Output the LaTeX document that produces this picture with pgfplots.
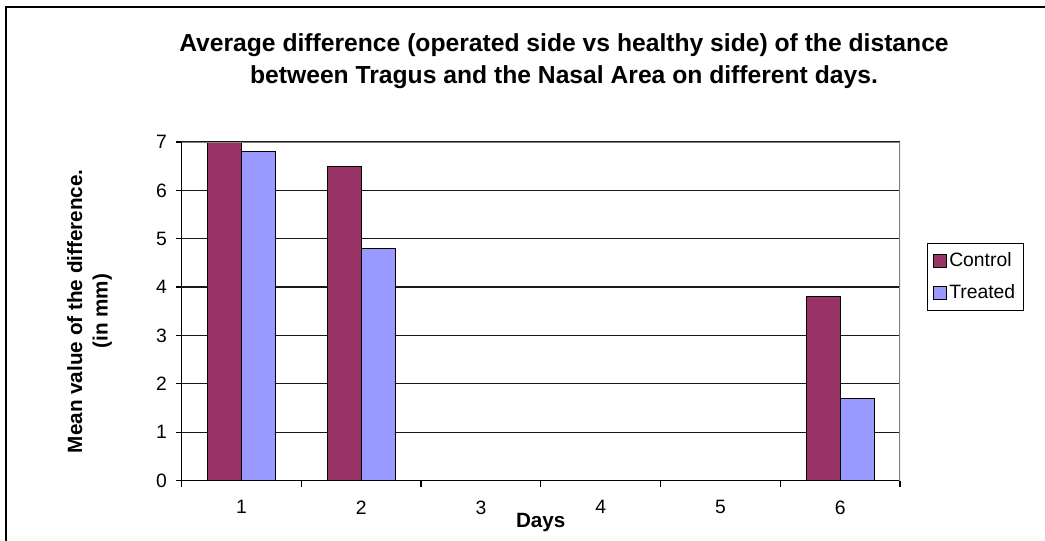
\documentclass[border=0pt]{standalone}
\usepackage{pgfplots}
\pgfplotsset{compat=1.18}
\usepackage{fontspec}
\setmainfont{Liberation Sans}

\definecolor{ctrl}{HTML}{993366}
\definecolor{trt}{HTML}{9999FF}

\newcommand{\tickfont}{\fontsize{14.5}{16}\selectfont}
\newcommand{\titlefont}{\fontsize{18.5}{24}\selectfont\bfseries}
\newcommand{\labfont}{\fontsize{15.5}{19}\selectfont\bfseries}

\begin{document}
\begin{tikzpicture}
% page area and outer chart frame
\useasboundingbox (0,0) rectangle (783.75pt,-405.75pt);
\draw[line width=1.1pt] (783.75pt,-5.25pt) -- (4.5pt,-5.25pt) -- (4.5pt,-405.75pt);

% chart title
\node[align=center, font=\titlefont] at (423pt,-45.75pt)
  {Average difference (operated side vs healthy side) of the distance\\
   between Tragus and the Nasal Area on different days.};

\begin{axis}[
  at={(136.125pt,-360.375pt)}, anchor=south west,
  scale only axis,
  width=538.875pt, height=253.875pt,
  xmin=0.5, xmax=6.5,
  ymin=0, ymax=7,
  ytick={0,...,7},
  xtick={1,...,6},
  xticklabels={1,2,3,4,5,6},
  minor xtick={0.5,1.5,...,6.5},
  major x tick style={draw=none},
  tick align=outside,
  major tick length=4.5pt,
  minor tick length=4.5pt,
  axis x line*=bottom,
  axis y line*=left,
  axis line style={black, line width=0.9pt},
  tick style={black, line width=0.9pt},
  ymajorgrids,
  grid style={black!90, line width=0.9pt},
  tick label style={font=\tickfont},
  xticklabel style={yshift=-7pt},
  yticklabel style={xshift=-3pt},
  /pgf/number format/assume math mode=true,
  xlabel={Days},
  ylabel={Mean value of the difference.\\(in mm)},
  label style={font=\labfont},
  xlabel style={at={(axis description cs:0.5,-0.1256)}, anchor=center},
  ylabel style={at={(axis description cs:-0.128,0.5)}, anchor=center, align=center},
  ybar=0pt,
  bar width=25.5pt,
  legend style={
    at={(rel axis cs:1.0376,0.7016)}, anchor=north west,
    draw=black, line width=0.8pt,
    font=\tickfont,
    row sep=8pt,
    inner xsep=4pt, inner ysep=5pt,
  },
  legend cell align=left,
  legend image code/.code={
    \draw[#1, line width=0.8pt] (0pt,-4.75pt) rectangle (9.5pt,4.75pt);
  },
]
\addplot[fill=ctrl, draw=black, line width=0.9pt]
  coordinates {(1,7.0) (2,6.5) (6,3.8)};
\addplot[fill=trt, draw=black, line width=0.9pt]
  coordinates {(1,6.8) (2,4.8) (6,1.7)};
\legend{Control, Treated}
% grey plot-area border on top and right
\draw[gray, line width=1.1pt] (rel axis cs:0,1) -- (rel axis cs:1,1) -- (rel axis cs:1,0);
\end{axis}
\end{tikzpicture}
\end{document}
